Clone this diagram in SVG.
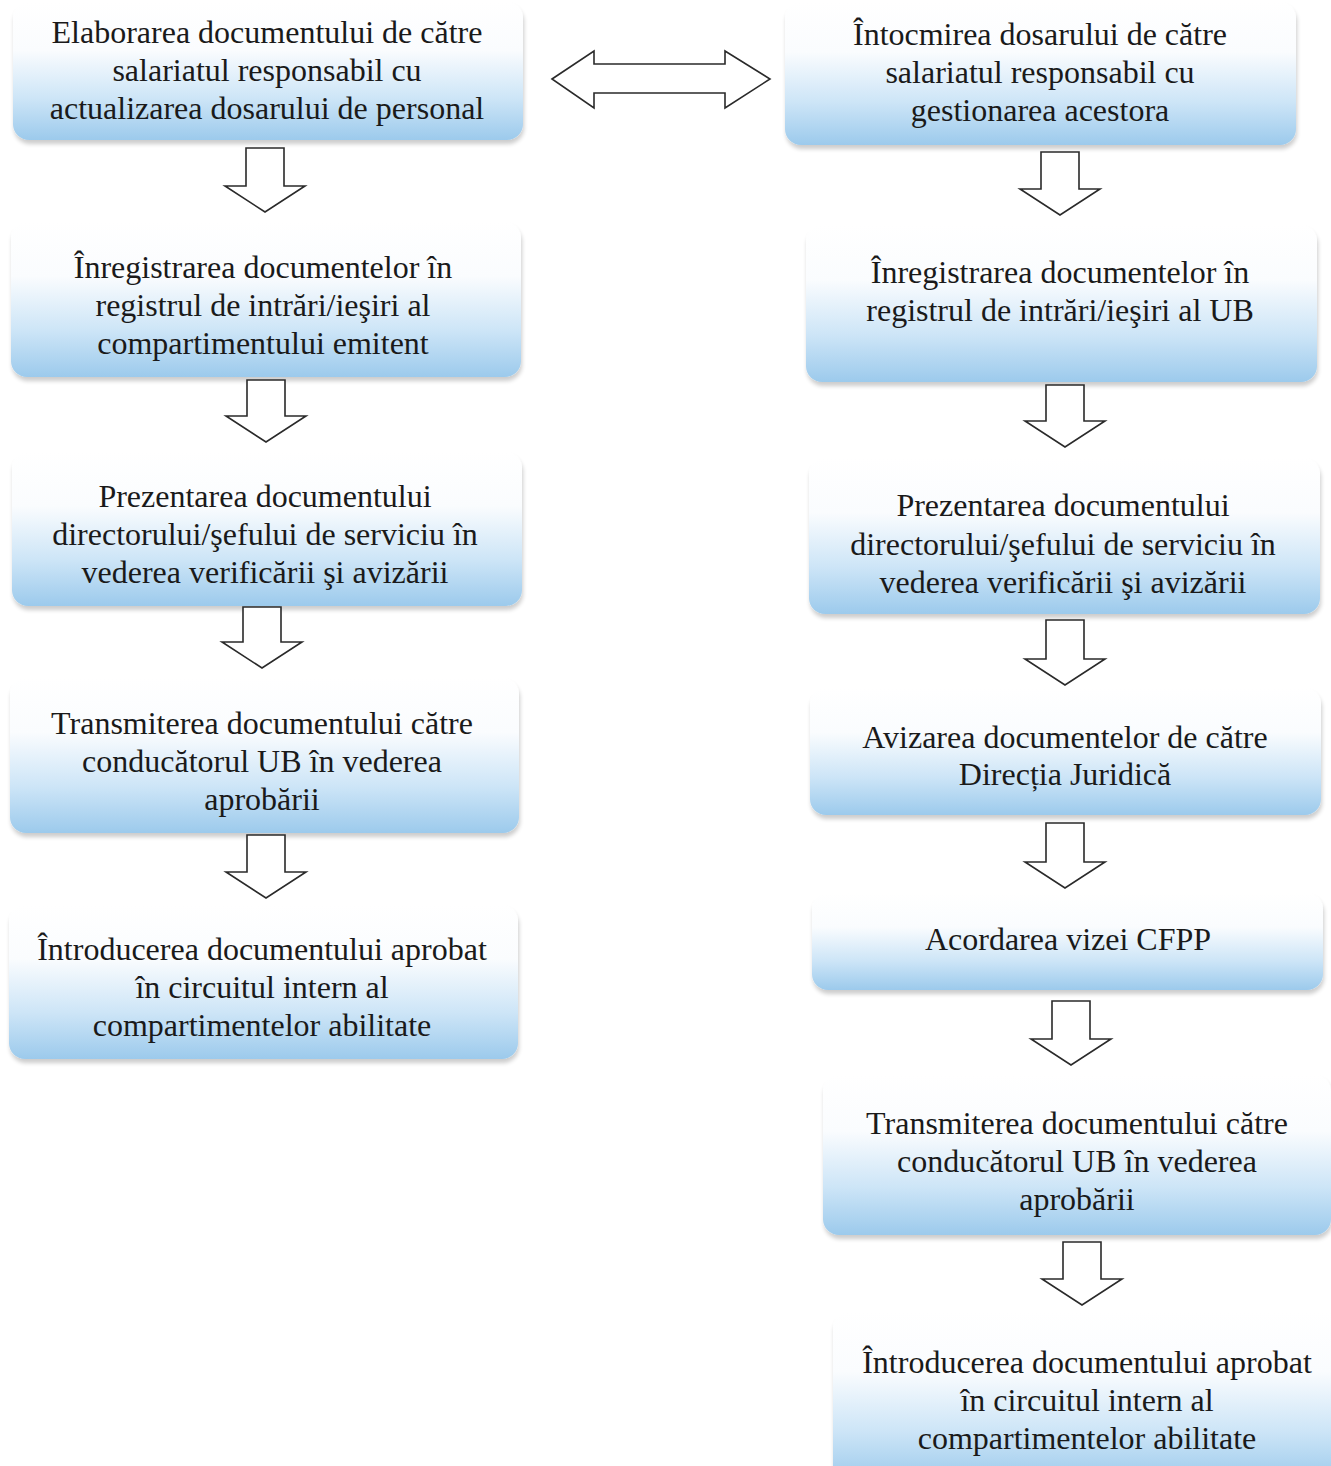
<svg xmlns="http://www.w3.org/2000/svg" width="1331" height="1466" viewBox="0 0 1331 1466">
<defs>
<linearGradient id="g" x1="0" y1="0" x2="0" y2="1">
<stop offset="0" stop-color="#ffffff"/>
<stop offset="0.35" stop-color="#fafcfe"/>
<stop offset="0.7" stop-color="#cde5f7"/>
<stop offset="1" stop-color="#9ccaec"/>
</linearGradient>
<filter id="sh" x="-5%" y="-5%" width="110%" height="115%">
<feGaussianBlur in="SourceAlpha" stdDeviation="2"/>
<feOffset dx="1" dy="4" result="b"/>
<feComponentTransfer><feFuncA type="linear" slope="0.2"/></feComponentTransfer>
<feMerge><feMergeNode/><feMergeNode in="SourceGraphic"/></feMerge>
</filter>
</defs>
<style>
.box{fill:url(#g);filter:url(#sh)}
.t{font-family:"Liberation Serif","Times New Roman",serif;font-size:32px;fill:#1a1a1a;text-anchor:middle}
.ar{fill:#ffffff;stroke:#2a2a2a;stroke-width:1.6;stroke-linejoin:miter}
</style>
<rect width="1331" height="1466" fill="#ffffff"/>

<g id="L1"><rect class="box" x="13" y="2" width="510" height="138" rx="16"/>
<text class="t" x="267" y="43">Elaborarea documentului de către</text>
<text class="t" x="267" y="81">salariatul responsabil cu</text>
<text class="t" x="267" y="119">actualizarea dosarului de personal</text></g>

<g id="L2"><rect class="box" x="11" y="222" width="510" height="155" rx="16"/>
<text class="t" x="263" y="278">Înregistrarea documentelor în</text>
<text class="t" x="263" y="316">registrul de intrări/ieşiri al</text>
<text class="t" x="263" y="354">compartimentului emitent</text></g>

<g id="L3"><rect class="box" x="12" y="452" width="510" height="154" rx="16"/>
<text class="t" x="265" y="507">Prezentarea documentului</text>
<text class="t" x="265" y="545">directorului/şefului de serviciu în</text>
<text class="t" x="265" y="583">vederea verificării şi avizării</text></g>

<g id="L4"><rect class="box" x="10" y="678" width="509" height="155" rx="16"/>
<text class="t" x="262" y="734">Transmiterea documentului către</text>
<text class="t" x="262" y="772">conducătorul UB în vederea</text>
<text class="t" x="262" y="810">aprobării</text></g>

<g id="L5"><rect class="box" x="9" y="905" width="509" height="154" rx="16"/>
<text class="t" x="262" y="960">Întroducerea documentului aprobat</text>
<text class="t" x="262" y="998">în circuitul intern al</text>
<text class="t" x="262" y="1036">compartimentelor abilitate</text></g>

<g id="R1"><rect class="box" x="785" y="2" width="511" height="143" rx="16"/>
<text class="t" x="1040" y="45">Întocmirea dosarului de către</text>
<text class="t" x="1040" y="83">salariatul responsabil cu</text>
<text class="t" x="1040" y="121">gestionarea acestora</text></g>

<g id="R2"><rect class="box" x="806" y="225" width="511" height="157" rx="16"/>
<text class="t" x="1060" y="283">Înregistrarea documentelor în</text>
<text class="t" x="1060" y="321">registrul de intrări/ieşiri al UB</text></g>

<g id="R3"><rect class="box" x="809" y="458" width="511" height="156" rx="16"/>
<text class="t" x="1063" y="516">Prezentarea documentului</text>
<text class="t" x="1063" y="555">directorului/şefului de serviciu în</text>
<text class="t" x="1063" y="593">vederea verificării şi avizării</text></g>

<g id="R4"><rect class="box" x="810" y="688" width="511" height="127" rx="16"/>
<text class="t" x="1065" y="748">Avizarea documentelor de către</text>
<text class="t" x="1065" y="785">Direcția Juridică</text></g>

<g id="R5"><rect class="box" x="812" y="893" width="511" height="97" rx="16"/>
<text class="t" x="1068" y="950">Acordarea vizei CFPP</text></g>

<g id="R6"><rect class="box" x="823" y="1075" width="508" height="160" rx="16"/>
<text class="t" x="1077" y="1134">Transmiterea documentului către</text>
<text class="t" x="1077" y="1172">conducătorul UB în vederea</text>
<text class="t" x="1077" y="1210">aprobării</text></g>

<g id="R7"><rect class="box" x="833" y="1312" width="510" height="170" rx="16"/>
<text class="t" x="1087" y="1373">Întroducerea documentului aprobat</text>
<text class="t" x="1087" y="1411">în circuitul intern al</text>
<text class="t" x="1087" y="1449">compartimentelor abilitate</text></g>

<g id="connectors">
<path class="ar" d="M552,79 L594,51 V64 H725 V51 L770,79 L725,108 V93 H594 V108 Z"/>
<path class="ar" d="M246,148 H284 V186 H305 L265,212 L225,186 H246 Z"/>
<path class="ar" d="M247,380 H285 V416 H306 L266,442 L226,416 H247 Z"/>
<path class="ar" d="M243,607 H281 V642 H302 L262,668 L222,642 H243 Z"/>
<path class="ar" d="M247,835 H285 V872 H306 L266,898 L226,872 H247 Z"/>
<path class="ar" d="M1041,152 H1079 V189 H1100 L1060,215 L1020,189 H1041 Z"/>
<path class="ar" d="M1046,385 H1084 V421 H1105 L1065,447 L1025,421 H1046 Z"/>
<path class="ar" d="M1046,620 H1084 V659 H1105 L1065,685 L1025,659 H1046 Z"/>
<path class="ar" d="M1046,823 H1084 V862 H1105 L1065,888 L1025,862 H1046 Z"/>
<path class="ar" d="M1052,1001 H1090 V1039 H1111 L1071,1065 L1031,1039 H1052 Z"/>
<path class="ar" d="M1063,1242 H1101 V1279 H1122 L1082,1305 L1042,1279 H1063 Z"/>
</g>
</svg>
